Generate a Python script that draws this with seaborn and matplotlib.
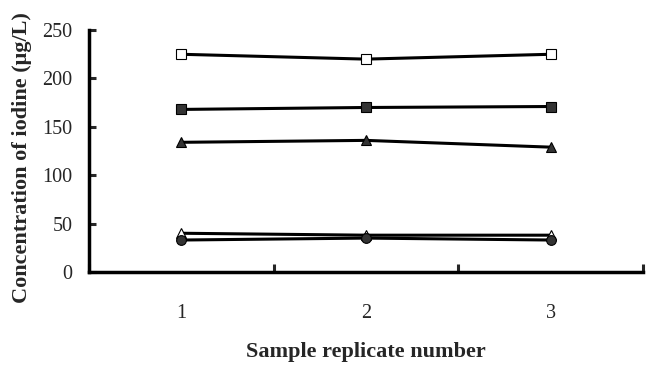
import matplotlib
matplotlib.use("Agg")
import matplotlib.pyplot as plt
import seaborn as sns
import pandas as pd

replicates = [1, 2, 3]
open_square = [225, 220, 225]
filled_square = [168, 170, 171]
filled_triangle = [134, 136, 129]
open_triangle = [40, 38, 38]
filled_circle = [33, 35, 33]

y_ticks = [0, 50, 100, 150, 200, 250]
x_labels = ["1", "2", "3"]

sns.set_style("white")
plt.rcParams['font.family'] = ['Liberation Serif', 'DejaVu Serif']

fig = plt.figure(figsize=(6.5, 3.67), dpi=100)
ax = fig.add_axes([0.137, 0.259, 0.852, 0.659])

dark = "#333333"
series = [
    (open_triangle, '^', 'white', 7),
    (filled_circle, 'o', dark, 7),
    (filled_triangle, '^', dark, 7.5),
    (filled_square, 's', dark, 7),
    (open_square, 's', 'white', 7),
]
for vals, m, fc, ms in series:
    df = pd.DataFrame({"rep": replicates, "val": vals})
    sns.lineplot(data=df, x="rep", y="val", ax=ax, color="black", linewidth=2.2,
                 marker=m, markersize=ms, markerfacecolor=fc,
                 markeredgecolor="black", markeredgewidth=0.8, legend=False)

ax.set_xlim(0.5, 3.5)
ax.set_ylim(0, 250)
ax.set_yticks(y_ticks)
ax.set_xticks([0.5, 1.5, 2.5, 3.5])
ax.set_xticklabels([])
ax.set_xticks(replicates, minor=True)
ax.set_xticklabels(x_labels, minor=True)
ax.tick_params(axis='x', which='major', direction='in', length=6, width=2.2, bottom=True)
ax.tick_params(axis='x', which='minor', length=0, pad=23, labelsize=14.5)
ax.tick_params(axis='y', direction='in', length=5, width=2.2, left=True, labelsize=14.5, pad=12)

for s in ['top', 'right']:
    ax.spines[s].set_visible(False)
for s in ['left', 'bottom']:
    ax.spines[s].set_linewidth(2.5)
    ax.spines[s].set_color('black')

ax.set_xlabel("Sample replicate number", fontsize=16, fontweight='bold', labelpad=14)
ax.set_ylabel("Concentration of iodine (μg/L)", fontsize=16, fontweight='bold')
ax.yaxis.set_label_coords(-0.103, 0.473)

fig.savefig("out.png", dpi=100)
